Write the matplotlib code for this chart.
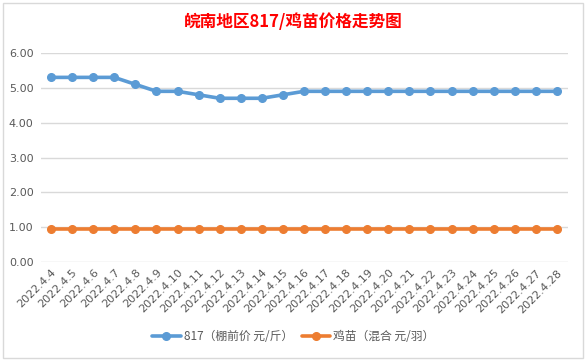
import matplotlib
matplotlib.use("Agg")
import matplotlib.pyplot as plt
from matplotlib.patches import Rectangle

plt.rcParams['font.family'] = ['Noto Sans CJK SC', 'DejaVu Sans']

dates = ["2022.4.%d" % d for d in range(4, 29)]
price_817 = [5.3, 5.3, 5.3, 5.3, 5.1, 4.9, 4.9, 4.8, 4.7, 4.7, 4.7, 4.8,
             4.9, 4.9, 4.9, 4.9, 4.9, 4.9, 4.9, 4.9, 4.9, 4.9, 4.9, 4.9, 4.9]
price_chick = [0.95] * 25
yticks = [0, 1, 2, 3, 4, 5, 6]
title = "皖南地区817/鸡苗价格走势图"
labels = ["817（棚前价 元/斤）", "鸡苗（混合 元/羽）"]

W, H = 587, 360
fig = plt.figure(figsize=(W / 100, H / 100), dpi=100)
fig.patch.set_facecolor("white")

# chart border
fig.add_artist(Rectangle((2.5 / W, 1 - 357.5 / H), (583 - 2.5) / W, (357.5 - 2.5) / H,
                         transform=fig.transFigure, fill=False,
                         edgecolor="#d9d9d9", linewidth=1.0))

left, right, top, bottom = 40.5, 567.5, 53, 262
ax = fig.add_axes([left / W, 1 - bottom / H, (right - left) / W, (bottom - top) / H])
x = list(range(len(dates)))
ax.plot(x, price_817, color="#5b9bd5", linewidth=2.6, marker="o", markersize=5.5,
        label=labels[0], solid_capstyle="round", zorder=3)
ax.plot(x, price_chick, color="#ed7d31", linewidth=2.6, marker="o", markersize=5.5,
        label=labels[1], solid_capstyle="round", zorder=3)

ax.set_xlim(-0.5, len(dates) - 0.5)
ax.set_ylim(0, 6)
ax.set_yticks(yticks)
ax.set_yticklabels(["%.2f" % v for v in yticks])
ax.yaxis.grid(True, color="#d9d9d9", linewidth=1.0)
ax.set_axisbelow(True)
for s in ax.spines.values():
    s.set_visible(False)
ax.tick_params(axis="y", length=0, labelsize=8, labelcolor="#595959", pad=5)
ax.set_xticks(x)
ax.set_xticklabels(dates, rotation=45, ha="right", rotation_mode="anchor")
ax.tick_params(axis="x", length=0, labelsize=8, labelcolor="#595959", pad=4)
for lab in ax.get_yticklabels() + ax.get_xticklabels():
    lab.set_family(["DejaVu Sans"])

fig.text(0.5, 1 - 22 / H, title, ha="center", va="center", color="#ff0000",
         fontsize=12, fontweight="bold")

leg = fig.legend(loc="center", bbox_to_anchor=(0.5, 1 - 337 / H), ncol=2, frameon=False,
                 fontsize=8.5, labelcolor="#595959", handlelength=2.4, columnspacing=0.7,
                 handletextpad=0.3)

fig.savefig("out.png", dpi=100)
